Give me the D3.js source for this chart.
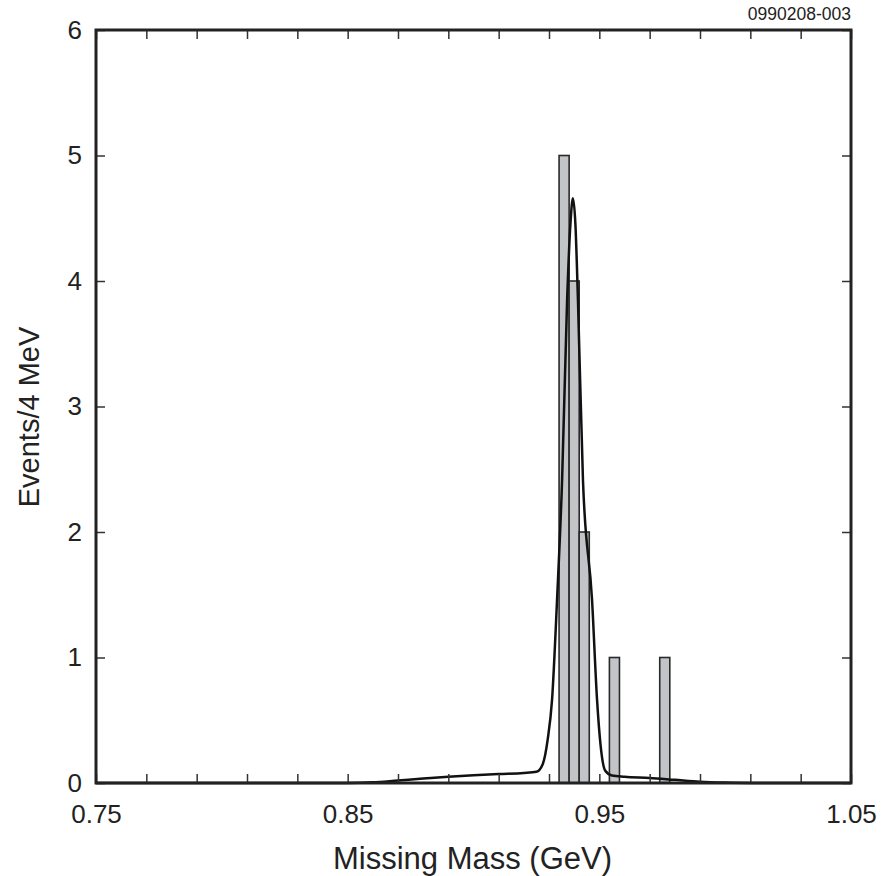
<!DOCTYPE html>
<html>
<head>
<meta charset="utf-8">
<script src="https://cdn.jsdelivr.net/npm/d3@7"></script>
<style>
  body { margin: 0; background: #fff; }
  svg text { font-family: "Liberation Sans", Arial, sans-serif; fill: #222; }
</style>
</head>
<body>
<svg id="chart" width="883" height="876"></svg>
<script>
// histogram bins (GeV, 4 MeV wide) and counts
const binStarts = [0.934, 0.938, 0.942, 0.954, 0.974];
const binCounts = [5, 4, 2, 1, 1];
const binWidth = 0.004;

// fitted curve
const fitMass = [0.75, 0.85, 0.86, 0.87, 0.88, 0.89, 0.90, 0.91, 0.92, 0.925, 0.9275, 0.9295,
  0.9312, 0.9332, 0.9352, 0.9372, 0.9385, 0.9395, 0.9405, 0.9415, 0.9435, 0.9471, 0.9491,
  0.9505, 0.9523, 0.955, 0.96, 0.97, 0.98, 0.99, 1.00, 1.01, 1.05];
const fitEvents = [0, 0, 0.005, 0.02, 0.035, 0.05, 0.062, 0.072, 0.08, 0.09, 0.15, 0.35,
  0.66, 1.46, 2.41, 3.85, 4.45, 4.66, 4.45, 3.85, 2.41, 1.46, 0.66,
  0.3, 0.10, 0.06, 0.05, 0.04, 0.025, 0.01, 0.003, 0, 0];

const xLabels = [0.75, 0.85, 0.95, 1.05];
const yTicks = [0, 1, 2, 3, 4, 5, 6];

(function missingMassChart() {
  const svg = d3.select("#chart");
  const margin = { top: 30, right: 32, bottom: 93, left: 96 };
  const width = +svg.attr("width") - margin.left - margin.right;
  const height = +svg.attr("height") - margin.top - margin.bottom;

  const g = svg.append("g")
    .attr("transform", `translate(${margin.left},${margin.top})`);

  const x = d3.scaleLinear().domain([0.75, 1.05]).range([0, width]);
  const y = d3.scaleLinear().domain([0, 6]).range([height, 0]);

  const xTicks = d3.range(0, 16).map(i => +(0.75 + i * 0.02).toFixed(2));
  const fmtX = d => xLabels.some(v => Math.abs(v - d) < 1e-6) ? d3.format(".2f")(d) : "";

  // bars
  g.selectAll("rect.bar")
    .data(binStarts.map((s, i) => ({ s, c: binCounts[i] })))
    .join("rect")
    .attr("class", "bar")
    .attr("x", d => x(d.s))
    .attr("width", d => x(d.s + binWidth) - x(d.s))
    .attr("y", d => y(d.c))
    .attr("height", d => y(0) - y(d.c))
    .attr("fill", "#c3c4c8")
    .attr("stroke", "#2a2a2a")
    .attr("stroke-width", 1.6);

  // fit curve
  const line = d3.line()
    .x((d, i) => x(fitMass[i]))
    .y(d => y(d))
    .curve(d3.curveMonotoneX);

  g.append("path")
    .datum(fitEvents)
    .attr("d", line)
    .attr("fill", "none")
    .attr("stroke", "#111")
    .attr("stroke-width", 2.5);

  // axes, ticks pointing inward
  const bottom = g.append("g")
    .attr("transform", `translate(0,${height})`)
    .call(d3.axisBottom(x).tickValues(xTicks).tickFormat(fmtX).tickSizeInner(-9).tickSizeOuter(0).tickPadding(22));
  const top = g.append("g")
    .call(d3.axisTop(x).tickValues(xTicks).tickFormat("").tickSizeInner(-9).tickSizeOuter(0));
  const left = g.append("g")
    .call(d3.axisLeft(y).tickValues(yTicks).tickFormat(d3.format("d")).tickSizeInner(-9).tickSizeOuter(0).tickPadding(14));
  const right = g.append("g")
    .attr("transform", `translate(${width},0)`)
    .call(d3.axisRight(y).tickValues(yTicks).tickFormat("").tickSizeInner(-9).tickSizeOuter(0));

  [bottom, top, left, right].forEach(a => {
    a.select(".domain").remove();
    a.selectAll("line").attr("stroke", "#333").attr("stroke-width", 1.5);
    a.selectAll("text").style("font-size", "26px").attr("fill", "#222");
  });
  bottom.selectAll("text").attr("dy", "0.71em");

  g.append("rect")
    .attr("width", width)
    .attr("height", height)
    .attr("fill", "none")
    .attr("stroke", "#222")
    .attr("stroke-width", 3);

  // labels
  svg.append("text")
    .attr("x", margin.left + width / 2 - 1)
    .attr("y", 869)
    .attr("text-anchor", "middle")
    .style("font-size", "31px")
    .text("Missing Mass (GeV)");

  svg.append("text")
    .attr("transform", `translate(39,417) rotate(-90)`)
    .attr("text-anchor", "middle")
    .style("font-size", "29px")
    .text("Events/4 MeV");

  svg.append("text")
    .attr("x", margin.left + width)
    .attr("y", 20)
    .attr("text-anchor", "end")
    .style("font-size", "17.5px")
    .text("0990208-003");
})();
</script>
</body>
</html>
